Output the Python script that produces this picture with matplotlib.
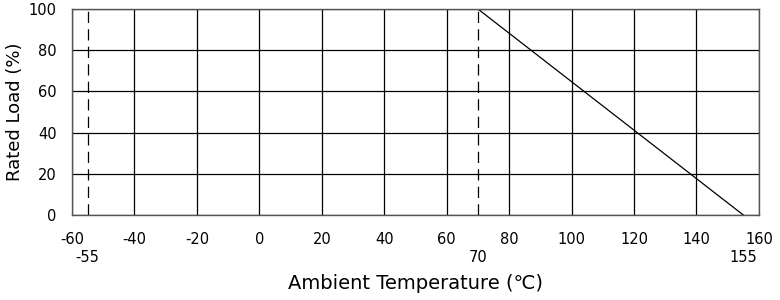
import matplotlib
matplotlib.use("Agg")
import matplotlib.pyplot as plt

# derating curve data
curve_temp = [70, 155]
curve_load = [100, 0]
limit_temps = [-55, 70]
major_xticks = [-60, -40, -20, 0, 20, 40, 60, 80, 100, 120, 140, 160]
extra_xticks = [-55, 70, 155]
yticks = [0, 20, 40, 60, 80, 100]

plt.rcParams['font.family'] = ['DejaVu Sans']
plt.rcParams['axes.unicode_minus'] = False

fig = plt.figure(figsize=(7.8, 3.0), dpi=100)
ax = fig.add_axes([0.0923, 0.2833, 0.8807, 0.6867])

ax.set_xlim(-60, 160)
ax.set_ylim(0, 100)

ax.set_xticks(major_xticks)
ax.set_xticklabels([str(t) for t in major_xticks])
ax.set_xticks(extra_xticks, minor=True)
ax.set_xticklabels([str(t) for t in extra_xticks], minor=True)
ax.set_yticks(yticks)

ax.grid(True, which='major', color='black', linewidth=0.9)
ax.tick_params(which='major', axis='x', length=0, pad=12, labelsize=10.5)
ax.tick_params(which='minor', axis='x', length=0, pad=25, labelsize=10.5)
ax.tick_params(axis='y', length=0, pad=11, labelsize=10.5)

for t in limit_temps:
    ax.axvline(t, color='black', linewidth=0.9, linestyle=(0, (9, 5)))

ax.plot(curve_temp, curve_load, color='black', linewidth=0.9)

for s in ax.spines.values():
    s.set_color('#555555')
    s.set_linewidth(1.0)

ax.set_xlabel('Ambient Temperature (℃)', fontsize=14)
ax.set_ylabel('Rated Load (%)', fontsize=13)
ax.xaxis.set_label_coords(0.5, -0.285)
ax.yaxis.set_label_coords(-0.07, 0.5)

fig.savefig('out.png', dpi=100)
